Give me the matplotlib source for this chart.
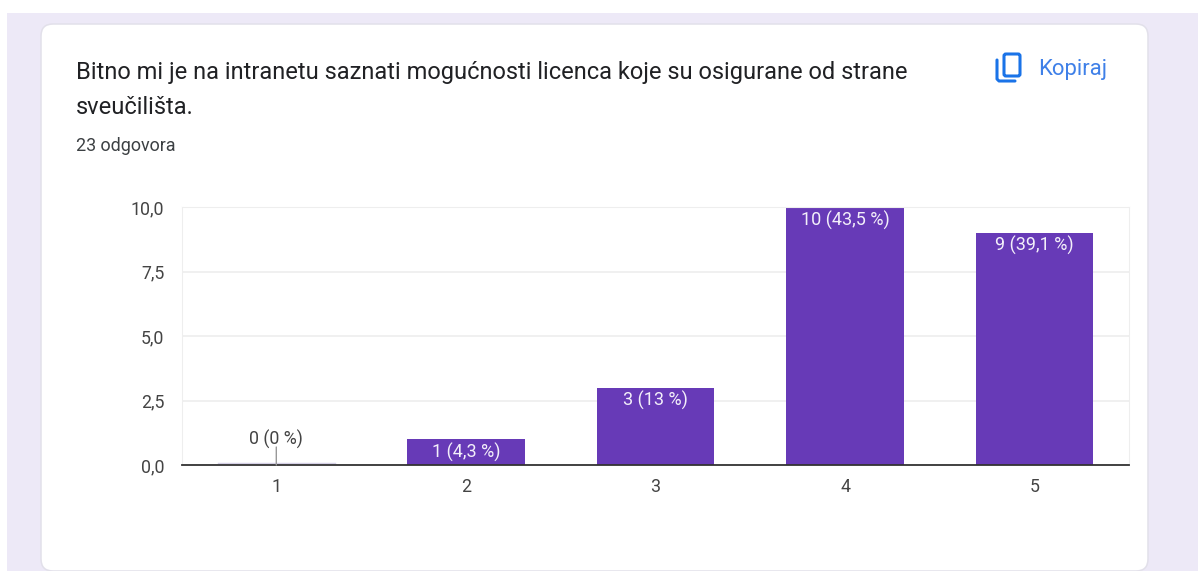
import matplotlib
matplotlib.use('Agg')
import matplotlib.pyplot as plt
from matplotlib.patches import FancyBboxPatch, Rectangle

plt.rcParams['font.family'] = ['Roboto', 'DejaVu Sans']

categories = ['1', '2', '3', '4', '5']
counts = [0, 1, 3, 10, 9]
bar_labels = ['0 (0 %)', '1 (4,3 %)', '3 (13 %)', '10 (43,5 %)', '9 (39,1 %)']
yticks = [0, 2.5, 5, 7.5, 10]
ytick_labels = ['0,0', '2,5', '5,0', '7,5', '10,0']
title_lines = ['Bitno mi je na intranetu saznati mogućnosti licenca koje su osigurane od strane', 'sveučilišta.']
subtitle = '23 odgovora'

W, H = 1198, 571
purple = '#673AB7'
fig = plt.figure(figsize=(W / 100, H / 100), dpi=100, facecolor='white')

# page background and card, in pixels
bg = fig.add_axes([0, 0, 1, 1])
bg.set_xlim(0, W)
bg.set_ylim(H, 0)
bg.axis('off')
bg.add_patch(Rectangle((7, 13), W - 7, H - 13, fc='#EDE9F7', ec='none'))
bg.add_patch(FancyBboxPatch((53, 36), 1083, 523, boxstyle='round,pad=12,rounding_size=12',
                            fc='white', ec='#E2E0EA', lw=1.1))

bg.text(76, 72, title_lines[0], fontsize=17, color='#202124', va='center', ha='left')
bg.text(76, 107, title_lines[1], fontsize=17, color='#202124', va='center', ha='left')
bg.text(76, 146, subtitle, fontsize=12.85, color='#3C4043', va='center', ha='left')

# copy icon
bg.add_patch(FancyBboxPatch((1004, 54), 16, 22, boxstyle='round,pad=0,rounding_size=2',
                            fc='none', ec='#1A73E8', lw=2.2))
bg.plot([997, 997, 999, 1015], [60, 79, 81, 81], color='#1A73E8', lw=2.2, solid_capstyle='round')
bg.text(1038, 69, 'Kopiraj', fontsize=15.8, color='#3F80E8', va='center', ha='left')

# chart
x0, x1, y_top, y_bot = 181.5, 1129.5, 207, 465
ax = fig.add_axes([x0 / W, 1 - y_bot / H, (x1 - x0) / W, (y_bot - y_top) / H])
ax.patch.set_alpha(0)
pos = list(range(1, len(categories) + 1))
ax.set_xlim(0.5, 5.5)
ax.set_ylim(0, 10)
ax.set_axisbelow(True)
ax.grid(axis='y', color='#EEEEEE', lw=1.2)
ax.bar(pos, counts, width=0.62, color=purple)
ax.set_xticks(pos, categories)
ax.set_yticks(yticks, ytick_labels)
ax.tick_params(length=0, labelsize=12.8, labelcolor='#444444')
ax.tick_params(axis='x', pad=9)
ax.tick_params(axis='y', pad=12.5)
for t in ax.get_yticklabels():
    t.set_va('center_baseline')
for s in ['top', 'right']:
    ax.spines[s].set_color('#EEEEEE')
ax.spines['left'].set_color('#EEEEEE')
ax.spines['bottom'].set_color('#333333')
ax.spines['bottom'].set_linewidth(1.3)

for p, c, lab in zip(pos, counts, bar_labels):
    if c == 0:
        # zero bar: sliver, leader line and dark label above it
        ax.plot([p - 0.31, p + 0.31], [0.06, 0.06], color='#D5D0E6', lw=1, clip_on=False)
        ax.annotate('', xy=(p, 0), xytext=(0, 18), textcoords='offset pixels', xycoords='data',
                    arrowprops=dict(arrowstyle='-', color='#999999', lw=1, shrinkA=0, shrinkB=0))
        ax.annotate(lab, xy=(p, 0), xytext=(0, 26), textcoords='offset pixels',
                    ha='center', va='center', fontsize=12.8, color='#444444')
    else:
        ax.annotate(lab, xy=(p, c), xytext=(0, -13), textcoords='offset pixels',
                    ha='center', va='center', fontsize=13, color='#F3EFFA')

fig.savefig('out.png', dpi=100)
